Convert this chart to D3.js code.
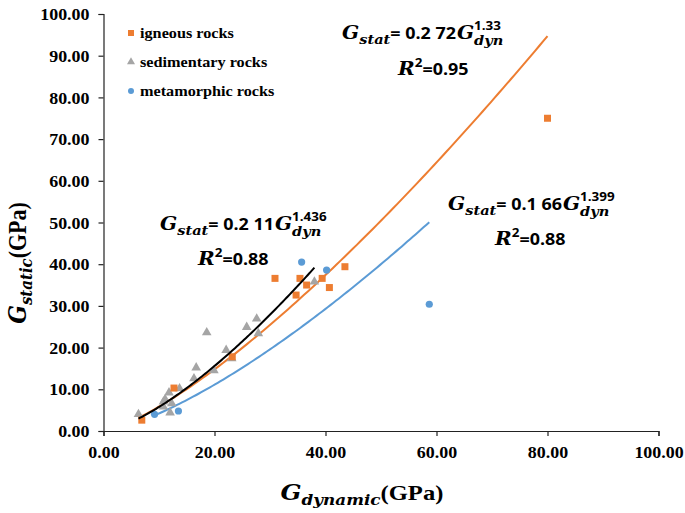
<!DOCTYPE html>
<html><head><meta charset="utf-8">
<script src="https://cdn.jsdelivr.net/npm/d3@7"></script>
<style>body{margin:0;background:#fff}</style>
</head><body><svg id="c" width="685" height="513"></svg>
<script>
const igneous = [[6.9,2.6],[12.7,10.3],[23.2,17.8],[30.9,36.6],[34.7,32.6],[35.4,36.6],[36.6,35.0],[39.4,36.6],[40.7,34.4],[43.5,39.4],[80.0,75.0]];
const sedimentary = [[6.3,4.0],[10.8,5.8],[11.1,7.6],[11.8,9.2],[12.0,4.4],[12.3,6.6],[13.7,10.2],[10.8,7.0],[16.3,12.6],[16.7,15.2],[18.6,23.6],[19.9,14.5],[22.1,19.4],[23.1,17.4],[25.8,24.9],[27.6,26.9],[27.9,23.4],[38.0,35.8]];
const metamorphic = [[9.2,4.0],[13.5,4.8],[35.7,40.5],[40.2,38.6],[58.7,30.4]];
const seriesNames = ["igneous rocks","sedimentary rocks","metamorphic rocks"];
// trendlines as drawn in the picture: [coef, exponent, xStart, xEnd]
const fitIgneous = [0.2668, 1.34, 6.9, 80.0];
const fitSedimentary = [0.211, 1.436, 6.3, 38.0];
const fitMetamorphic = [0.168, 1.399, 9.2, 58.7];
// equation labels as printed
const eqCoefs = ["0.2 72","0.2 11","0.1 66"];
const eqExps = ["1.33","1.436","1.399"];
const eqR2 = ["95","88","88"];
const xTicks = [0,20,40,60,80,100];
const yTicks = [0,10,20,30,40,50,60,70,80,90,100];

const S = 1.12; // horizontal text stretch
const colors = {ig:"#ED7D31", sed:"#A5A5A5", met:"#5B9BD5"};
const svg = d3.select("#c");
const x = d3.scaleLinear().domain([0,100]).range([103.5,658.5]);
const y = d3.scaleLinear().domain([0,100]).range([431,14]);
const tickFont = "'Liberation Serif','Times New Roman',serif";

const xa = svg.append("g").attr("transform","translate(0,431)")
  .call(d3.axisBottom(x).tickValues(xTicks).tickFormat(d3.format(".2f")).tickSizeOuter(0).tickSize(5));
const ya = svg.append("g").attr("transform","translate(103.5,0)")
  .call(d3.axisLeft(y).tickValues(yTicks).tickFormat(d3.format(".2f")).tickSizeOuter(0).tickSize(5));
[xa,ya].forEach(a=>{
  a.selectAll("path,line").attr("stroke","#222").attr("stroke-width",1.2);
  a.selectAll("text").attr("font-family",tickFont).attr("font-weight","bold").attr("font-size",16).attr("fill","#000")
   .attr("transform",`scale(${S},1)`);
});
xa.selectAll("text").attr("dy","1.2em");
ya.selectAll("text").attr("x",-14/S).attr("dy","0.35em");

// trend lines
function fitLine(f){
  const pts = d3.range(0,101).map(i=>{const v=f[2]+(f[3]-f[2])*i/100; return [v, f[0]*Math.pow(v,f[1])];});
  return d3.line().x(d=>x(d[0])).y(d=>y(d[1]))(pts);
}
svg.append("path").attr("d",fitLine(fitIgneous)).attr("fill","none").attr("stroke",colors.ig).attr("stroke-width",2);
svg.append("path").attr("d",fitLine(fitMetamorphic)).attr("fill","none").attr("stroke",colors.met).attr("stroke-width",2);

// points
const sym = d3.symbol();
svg.selectAll(".sed").data(sedimentary).join("path").attr("d",sym.type(d3.symbolTriangle).size(40)())
  .attr("transform",d=>`translate(${x(d[0])},${y(d[1])})`).attr("fill",colors.sed);
svg.selectAll(".ig").data(igneous).join("rect").attr("x",d=>x(d[0])-3.5).attr("y",d=>y(d[1])-3.5)
  .attr("width",7).attr("height",7).attr("fill",colors.ig);
svg.selectAll(".met").data(metamorphic).join("circle").attr("cx",d=>x(d[0])).attr("cy",d=>y(d[1])).attr("r",3.6).attr("fill",colors.met);
svg.append("path").attr("d",fitLine(fitSedimentary)).attr("fill","none").attr("stroke","#000").attr("stroke-width",2);

// text helper with horizontal stretch
function place(txt, x0, y0, fam, size, style){
  const t = svg.append("text").attr("transform",`translate(${x0},${y0}) scale(${S},1)`).text(txt).attr("font-family",fam)
    .attr("font-size",size).attr("font-weight","bold").attr("font-style",style||"normal");
  return t.node().getComputedTextLength()*S;
}

// legend
const lg = [[colors.ig,"sq"],[colors.sed,"tri"],[colors.met,"ci"]];
lg.forEach((l,i)=>{
  const ly = 33 + i*29, lx = 131;
  if(l[1]==="sq") svg.append("rect").attr("x",lx-3).attr("y",ly-3).attr("width",6).attr("height",6).attr("fill",l[0]);
  if(l[1]==="tri") svg.append("path").attr("d",d3.symbol().type(d3.symbolTriangle).size(28)()).attr("transform",`translate(${lx},${ly})`).attr("fill",l[0]);
  if(l[1]==="ci") svg.append("circle").attr("cx",lx).attr("cy",ly).attr("r",3).attr("fill",l[0]);
  place(seriesNames[i], lx+9, ly+5, tickFont, 14.5);
});

// equations
const mathFont = "'DejaVu Serif','Liberation Serif',serif";
const numFont = "'Open Sans','Noto Sans',sans-serif";
function equation(x0, y0, coef, expo, r2, rx, ry){
  let cx = x0;
  cx += place("G", cx, y0, mathFont, 18, "italic");
  cx += place("stat", cx, y0+5, mathFont, 13, "italic");
  cx += place("= "+coef, cx, y0, numFont, 16);
  cx += place("G", cx+1, y0, mathFont, 18, "italic") + 1;
  place(expo, cx, y0-9, numFont, 12);
  place("dyn", cx, y0+6, mathFont, 13, "italic");
  let rxx = rx;
  rxx += place("R", rxx, ry, mathFont, 18, "italic");
  rxx += place("2", rxx, ry-8, numFont, 12);
  place("=0."+r2, rxx, ry, numFont, 16);
}
equation(342, 38.5, eqCoefs[0], eqExps[0], eqR2[0], 398, 75);
equation(160, 230, eqCoefs[1], eqExps[1], eqR2[1], 198, 265);
equation(448, 210, eqCoefs[2], eqExps[2], eqR2[2], 495, 245);

// axis titles
const xt = svg.append("text").attr("transform",`translate(362,500) scale(${S},1)`).attr("text-anchor","middle");
xt.append("tspan").text("G").attr("font-family",mathFont).attr("font-style","italic").attr("font-weight","bold").attr("font-size",22);
xt.append("tspan").text("dynamic").attr("font-family",mathFont).attr("font-style","italic").attr("font-weight","bold").attr("font-size",15).attr("dy",5);
xt.append("tspan").text("(GPa)").attr("font-family",tickFont).attr("font-weight","bold").attr("font-size",22).attr("dy",-5);
const yt = svg.append("text").attr("transform",`translate(26,263) rotate(-90) scale(1,${S})`).attr("text-anchor","middle");
yt.append("tspan").text("G").attr("font-family",mathFont).attr("font-style","italic").attr("font-weight","bold").attr("font-size",22);
yt.append("tspan").text("static").attr("font-family",mathFont).attr("font-style","italic").attr("font-weight","bold").attr("font-size",15).attr("dy",5);
yt.append("tspan").text("(GPa)").attr("font-family",tickFont).attr("font-weight","bold").attr("font-size",22).attr("dy",-5);
</script></body></html>
